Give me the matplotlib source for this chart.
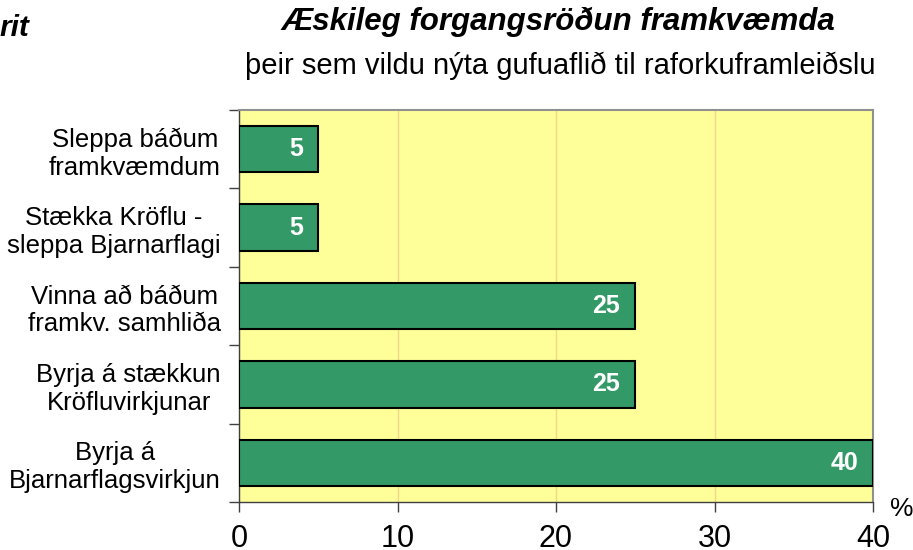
import matplotlib
matplotlib.use("Agg")
import matplotlib.pyplot as plt

categories = ["Sleppa báðum\nframkvæmdum", "Stækka Kröflu -\nsleppa Bjarnarflagi",
              "Vinna að báðum\nframkv. samhliða", "Byrja á stækkun\nKröfluvirkjunar",
              "Byrja á\nBjarnarflagsvirkjun"]
values = [5, 5, 25, 25, 40]
xticks = [0, 10, 20, 30, 40]

plt.rcParams['font.family'] = ['Liberation Sans', 'DejaVu Sans']
fig = plt.figure(figsize=(9.13, 5.5), dpi=100)
ax = fig.add_axes([239/913, 1-502/550, (873-239)/913, (502-110)/550])
ax.set_facecolor('#FFFF99')
ypos = list(range(len(categories)))
ax.barh(ypos, values, height=0.59, color='#339966', edgecolor='black', linewidth=1.5, zorder=3)
ax.set_xlim(0, 40)
ax.set_ylim(len(categories)-0.5, -0.5)
ax.set_xticks(xticks)
ax.set_xticklabels([str(t) for t in xticks], fontsize=22)
ax.set_yticks(ypos)
ax.set_yticklabels(categories, fontsize=18.5, linespacing=1.2, multialignment='center')
ax.tick_params(axis='y', length=0, pad=13)
ax.set_yticks([i - 0.5 for i in range(len(categories)+1)], minor=True)
ax.tick_params(axis='y', which='minor', length=7, width=1, color='#404040')
ax.tick_params(axis='x', length=7, width=1, color='#404040', pad=9)
ax.xaxis.grid(True, color='#F2D68C', linewidth=1, zorder=0)
for s in ['top', 'right']:
    ax.spines[s].set_color('#909090')
    ax.spines[s].set_linewidth(1.5)
for s in ['left', 'bottom']:
    ax.spines[s].set_color('#404040')
    ax.spines[s].set_linewidth(1)
for y, v in zip(ypos, values):
    ax.text(v - 0.95, y, str(v), ha='right', va='center', color='white',
            fontsize=18, fontweight='bold', zorder=4)

fig.text(558/913, 1-22/550, "Æskileg forgangsröðun framkvæmda", ha='center', va='center',
         fontsize=22.5, fontweight='bold', fontstyle='italic')
fig.text(560/913, 1-66/550, "þeir sem vildu nýta gufuaflið til raforkuframleiðslu", ha='center', va='center',
         fontsize=21)
fig.text(-0.001, 1-28/550, "rit", ha='left', va='center', fontsize=21.5, fontweight='bold', fontstyle='italic')
fig.text(902/913, 1-509/550, "%", ha='center', va='center', fontsize=19)

fig.savefig("out.png", dpi=100)
